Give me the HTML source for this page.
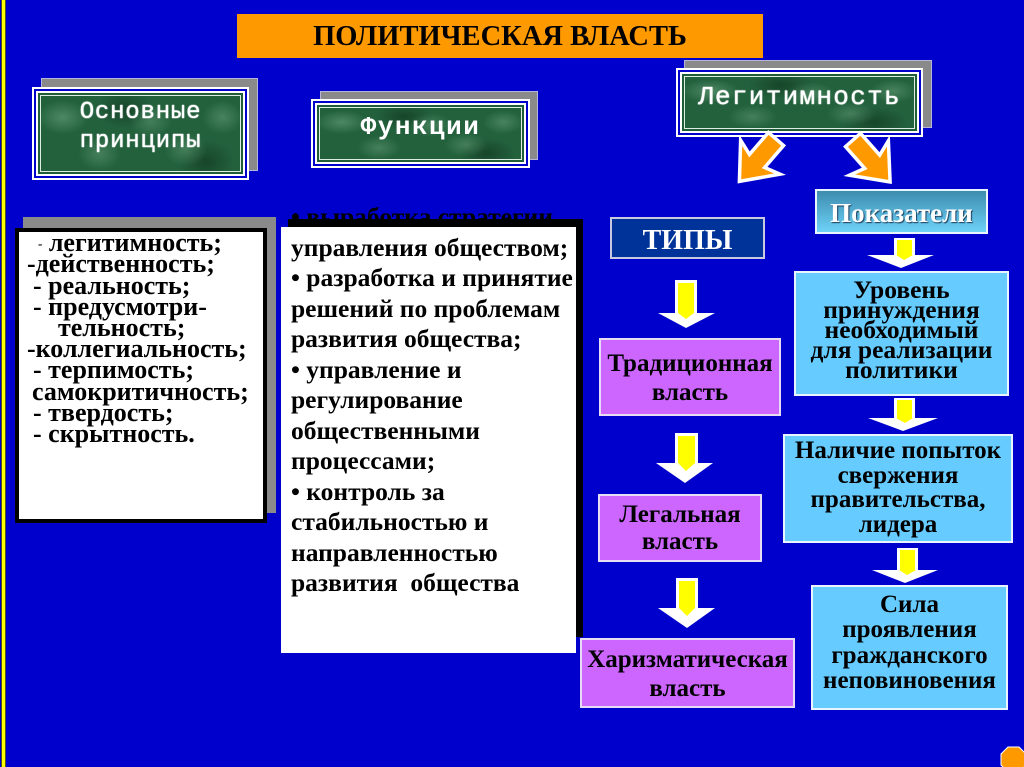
<!DOCTYPE html>
<html><head><meta charset="utf-8">
<style>
*{margin:0;padding:0}
html,body{width:1024px;height:767px;overflow:hidden;background:#0000cc}
body{position:relative;font-family:"Liberation Serif","Noto Serif CJK SC",serif}
.a{position:absolute}
.t{position:absolute;white-space:nowrap;font-weight:bold;color:#000;font-family:"Liberation Serif","Noto Serif CJK SC",serif}
.gs{position:absolute;background:#8a8a8a;border:1px solid #b4b4dc;box-sizing:border-box}
.gb{position:absolute;box-sizing:border-box;border:2px solid #fff;padding:2px;background:#0000cc}
.gi{width:100%;height:100%;box-sizing:border-box;border:2px solid #fff;
box-shadow:inset 0 0 0 2px #1f5c38,inset 0 0 0 3px #dfeee3;
background:
radial-gradient(ellipse 18% 30% at 12% 30%,rgba(140,195,155,.40),transparent 70%),
radial-gradient(ellipse 15% 30% at 30% 75%,rgba(130,185,145,.35),transparent 70%),
radial-gradient(ellipse 15% 30% at 55% 35%,rgba(140,195,155,.30),transparent 70%),
radial-gradient(ellipse 15% 30% at 72% 70%,rgba(130,185,145,.35),transparent 70%),
radial-gradient(ellipse 14% 30% at 90% 30%,rgba(140,195,155,.35),transparent 70%),
radial-gradient(ellipse 20% 35% at 42% 20%,rgba(8,35,18,.45),transparent 70%),
radial-gradient(ellipse 20% 40% at 82% 85%,rgba(8,35,18,.45),transparent 70%),
#23613d}
.gl{position:absolute;white-space:nowrap;color:#fff;font-family:"Liberation Mono",monospace;font-weight:bold;text-align:center}
.pb{position:absolute;background:#cc66ff;border:2px solid #e6ddf5;box-sizing:border-box}
.lb{position:absolute;background:#66ccff;border:2px solid #e8f4ff;box-sizing:border-box}
.ll{position:absolute;white-space:nowrap;font-weight:bold;color:#000;font-size:26px;line-height:21.2px}
</style></head><body>

<!-- left yellow rule -->
<div class="a" style="left:1px;top:0;width:1px;height:767px;background:#55551a"></div>
<div class="a" style="left:2px;top:0;width:3px;height:767px;background:#ffff00"></div>
<div class="a" style="left:5px;top:0;width:1px;height:767px;background:#55551a"></div>

<!-- title -->
<div class="a" style="left:237px;top:14px;width:526px;height:44px;background:#ff9900"></div>
<div class="t" style="left:237px;width:526px;text-align:center;top:23px;font-size:28.5px;line-height:28px">ПОЛИТИЧЕСКАЯ ВЛАСТЬ</div>

<!-- Основные принципы -->
<div class="gs" style="left:41px;top:78px;width:217px;height:93px"></div>
<div class="gb" style="left:32px;top:87px;width:217px;height:93px"><div class="gi"></div></div>
<div class="gl" style="left:32px;width:217px;top:98px;font-size:24px;line-height:29px;letter-spacing:0.8px;font-weight:normal;text-shadow:0 0 1px #fff,0 0 1px #fff">Основные<br>принципы</div>

<!-- Функции -->
<div class="gs" style="left:320px;top:91px;width:218px;height:69px"></div>
<div class="gb" style="left:311px;top:99px;width:219px;height:69px"><div class="gi"></div></div>
<div class="gl" style="left:311px;width:219px;top:113.5px;font-size:26px;line-height:26px;letter-spacing:1.5px">Функции</div>

<!-- Легитимность -->
<div class="gs" style="left:684px;top:60px;width:248px;height:68px"></div>
<div class="gb" style="left:676px;top:68px;width:247px;height:69px"><div class="gi"></div></div>
<div class="gl" style="left:676px;width:247px;top:83.5px;font-size:26px;line-height:26px;letter-spacing:1.3px;font-weight:normal;text-shadow:0 0 1px #fff,0 0 1px #fff">Легитимность</div>

<!-- left list box -->
<div class="a" style="left:23px;top:217px;width:253px;height:296px;background:#8a8a8a"></div>
<div class="a" style="left:15px;top:228px;width:252px;height:295px;background:#fff;border:4px solid #000;box-sizing:border-box"></div>
<div class="ll" style="left:38px;top:232.2px"><span style="font-size:13px;vertical-align:3px">-</span> легитимность;</div>
<div class="ll" style="left:27px;top:253.4px">-действенность;</div>
<div class="ll" style="left:33px;top:274.6px">- реальность;</div>
<div class="ll" style="left:33px;top:295.8px">- предусмотри-</div>
<div class="ll" style="left:58px;top:317px">тельность;</div>
<div class="ll" style="left:27px;top:338.2px">-коллегиальность;</div>
<div class="ll" style="left:33px;top:359.4px">- терпимость;</div>
<div class="ll" style="left:32px;top:380.6px">самокритичность;</div>
<div class="ll" style="left:33px;top:401.8px">- твердость;</div>
<div class="ll" style="left:33px;top:423px">- скрытность.</div>

<!-- center box -->
<div class="a" style="left:288px;top:219px;width:295px;height:418px;background:#000"></div>
<div class="t" style="left:291px;top:202.3px;font-size:25.5px;line-height:30.5px">• выработка стратегии</div>
<div class="a" style="left:281px;top:227px;width:295px;height:426px;background:#fff"></div>
<div class="t" style="left:291px;top:232.8px;font-size:25.5px;line-height:30.5px">управления обществом;<br>• разработка и принятие<br>решений по проблемам<br>развития общества;<br>• управление и<br>регулирование<br>общественными<br>процессами;<br>• контроль за<br>стабильностью и<br>направленностью<br>развития&nbsp; общества</div>

<!-- ТИПЫ -->
<div class="a" style="left:610px;top:217px;width:155px;height:42px;background:#003399;border:2px solid #c8c8e0;box-sizing:border-box"></div>
<div class="t" style="left:610px;width:155px;text-align:center;top:226.5px;font-size:28px;line-height:28px;color:#fff">ТИПЫ</div>

<!-- Показатели -->
<div class="a" style="left:815px;top:189px;width:173px;height:45px;background:linear-gradient(#3c8cae,#6fd2f8);border:2px solid #e8f4ff;box-sizing:border-box"></div>
<div class="t" style="left:815px;width:173px;text-align:center;top:200.4px;font-size:27px;line-height:27px;color:#fff;text-shadow:1px 1px 1px #1a3c5a">Показатели</div>

<!-- purple boxes -->
<div class="pb" style="left:599px;top:338px;width:182px;height:78px"></div>
<div class="t" style="left:599px;width:182px;text-align:center;top:348.8px;font-size:25px;line-height:29px">Традиционная<br>власть</div>
<div class="pb" style="left:598px;top:494px;width:164px;height:68px"></div>
<div class="t" style="left:598px;width:164px;text-align:center;top:501px;font-size:25px;line-height:27px">Легальная<br>власть</div>
<div class="pb" style="left:580px;top:638px;width:215px;height:70px"></div>
<div class="t" style="left:580px;width:215px;text-align:center;top:645px;font-size:25px;line-height:29px">Харизматическая<br>власть</div>

<!-- light blue boxes -->
<div class="lb" style="left:794px;top:271px;width:215px;height:125px"></div>
<div class="t" style="left:794px;width:215px;text-align:center;top:279.6px;font-size:25.5px;line-height:20px">Уровень<br>принуждения<br>необходимый<br>для реализации<br>политики</div>
<div class="lb" style="left:783px;top:434px;width:230px;height:109px"></div>
<div class="t" style="left:783px;width:230px;text-align:center;top:439.3px;font-size:25px;line-height:24.5px">Наличие попыток<br>свержения<br>правительства,<br>лидера</div>
<div class="lb" style="left:811px;top:585px;width:197px;height:125px"></div>
<div class="t" style="left:811px;width:197px;text-align:center;top:591.8px;font-size:25px;line-height:25.5px">Сила<br>проявления<br>гражданского<br>неповиновения</div>

<!-- arrows -->
<svg class="a" style="left:0;top:0" width="1024" height="767" viewBox="0 0 1024 767">
 <g fill="#ff9900" stroke="#fff" stroke-width="3.5" stroke-linejoin="miter">
  <polygon transform="translate(776,139) rotate(40.8)" points="-10,0 10,0 10,29 26,24 0,56 -26,24 -10,29"/>
  <polygon transform="translate(853,140) rotate(-41.5)" points="-10,0 10,0 10,29 26,24 0,56 -26,24 -10,29"/>
 </g>
 <g>
  <rect x="675" y="280" width="22" height="34" fill="#fff"/><rect x="678" y="283" width="16" height="31" fill="#ffff00"/>
  <polygon points="658,313 715,313 686,328" fill="#fff"/><polygon points="678,313 694,313 686,319" fill="#ffff00"/>
  <rect x="675" y="433" width="23" height="31" fill="#fff"/><rect x="678" y="436" width="17" height="28" fill="#ffff00"/>
  <polygon points="656,463 713,463 685,483" fill="#fff"/><polygon points="678,463 695,463 686,471" fill="#ffff00"/>
  <rect x="676" y="578" width="22" height="31" fill="#fff"/><rect x="679" y="581" width="16" height="28" fill="#ffff00"/>
  <polygon points="658,608 715,608 687,628" fill="#fff"/><polygon points="679,608 695,608 687,616" fill="#ffff00"/>
  <rect x="894" y="238" width="21" height="18" fill="#fff"/><rect x="897" y="240" width="15" height="16" fill="#ffff00"/>
  <polygon points="867,255 934,255 901,268" fill="#fff"/><polygon points="896,255 913,255 904,260" fill="#ffff00"/>
  <rect x="894" y="398" width="21" height="21" fill="#fff"/><rect x="897" y="400" width="15" height="19" fill="#ffff00"/>
  <polygon points="868,418 938,418 903,431" fill="#fff"/><polygon points="896,418 913,418 905,423" fill="#ffff00"/>
  <rect x="897" y="548" width="21" height="23" fill="#fff"/><rect x="900" y="550" width="15" height="21" fill="#ffff00"/>
  <polygon points="872,570 938,570 905,583" fill="#fff"/><polygon points="899,570 916,570 907,575" fill="#ffff00"/>
 </g>
 <polygon points="1008,747 1019,747 1026,754 1026,765 1019,772 1008,772 1001,765 1001,754" fill="#ff9900" stroke="#fff" stroke-width="1"/>
</svg>

</body></html>
